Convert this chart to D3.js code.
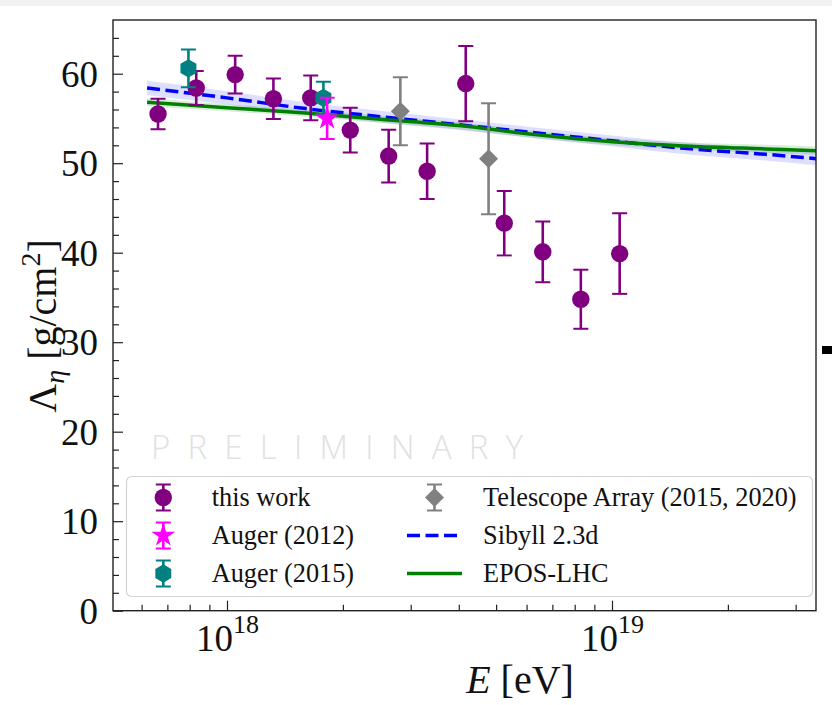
<!DOCTYPE html>
<html>
<head>
<meta charset="utf-8">
<script src="https://cdn.jsdelivr.net/npm/d3@7"></script>
<style>
  body { margin: 0; background: #fff; }
  svg { display: block; }
  text { font-family: "Liberation Serif", "DejaVu Serif", serif; }
</style>
</head>
<body>
<div id="chart"></div>
<script>
// measured points, this work
var workE = [6.62e17, 8.32e17, 1.05e18, 1.32e18, 1.65e18, 2.09e18, 2.63e18, 3.31e18, 4.17e18, 5.25e18, 6.61e18, 8.30e18, 1.047e19];
var workL = [55.5, 58.4, 59.9, 57.2, 57.3, 53.7, 50.8, 49.1, 58.9, 43.3, 40.1, 34.8, 39.9];
var workErr = [1.7, 1.9, 2.1, 2.25, 2.5, 2.5, 2.95, 3.1, 4.2, 3.6, 3.4, 3.3, 4.5];

var auger12E = [1.82e18];
var auger12L = [55.0];
var auger12Err = [2.3];

var auger15E = [7.94e17, 1.78e18];
var auger15L = [60.6, 57.3];
var auger15Err = [2.1, 1.8];

var taE = [2.82e18, 4.78e18];
var taL = [55.8, 50.5];
var taErr = [3.8, 6.2];

// model curves
var modelE = [6.2e17, 1e18, 1.6e18, 2.5e18, 4e18, 6.3e18, 1e19, 1.6e19, 2.5e19, 3.4e19];
var sibyllL = [58.4, 57.3, 56.1, 55.2, 54.3, 53.4, 52.5, 51.6, 51.0, 50.5];
var sibyllBand = [0.8, 0.75, 0.7, 0.65, 0.6, 0.6, 0.6, 0.65, 0.7, 0.75];
var eposL = [56.8, 56.2, 55.6, 54.9, 54.2, 53.2, 52.4, 51.9, 51.6, 51.4];
var eposBand = [0.45, 0.4, 0.4, 0.4, 0.4, 0.4, 0.4, 0.4, 0.45, 0.45];

var yMajor = [0, 10, 20, 30, 40, 50, 60];
var yMinor = [2, 4, 6, 8, 12, 14, 16, 18, 22, 24, 26, 28, 32, 34, 36, 38, 42, 44, 46, 48, 52, 54, 56, 58, 62, 64];
var xMajor = [1e18, 1e19];
var xMinor = [6e17, 7e17, 8e17, 9e17, 2e18, 3e18, 4e18, 5e18, 6e18, 7e18, 8e18, 9e18, 2e19, 3e19];

var chartW = 832, chartH = 705;
var pLeft = 113, pRight = 816, pTop = 20, pBottom = 610.7;

var svg = d3.select("#chart").append("svg").attr("width", chartW).attr("height", chartH);

// grey strip at the very top of the screenshot
svg.append("rect").attr("x", 0).attr("y", 0).attr("width", chartW).attr("height", 6).attr("fill", "#f1f1f1");

var x = d3.scaleLog().domain([Math.pow(10, 17.7039), Math.pow(10, 19.5299)]).range([pLeft, pRight]);
var y = d3.scaleLinear().domain([0, 66]).range([pBottom, pTop]);

svg.append("defs").append("clipPath").attr("id", "clip")
  .append("rect").attr("x", pLeft).attr("y", pTop).attr("width", pRight - pLeft).attr("height", pBottom - pTop);

// watermark
svg.append("text")
  .attr("x", 151).attr("y", 459)
  .attr("textLength", 372).attr("lengthAdjust", "spacing")
  .style("font-family", "'Open Sans', 'DejaVu Sans', sans-serif")
  .style("font-weight", 300)
  .style("font-size", "33px")
  .attr("fill", "#e1e1e1")
  .text("PRELIMINARY");

var plot = svg.append("g").attr("clip-path", "url(#clip)");

// model bands + lines
function band(vals, errs) {
  return d3.area()
    .x(function(d, i) { return x(modelE[i]); })
    .y0(function(d, i) { return y(vals[i] - errs[i]); })
    .y1(function(d, i) { return y(vals[i] + errs[i]); })
    .curve(d3.curveMonotoneX)(modelE);
}
function curve(vals) {
  return d3.line()
    .x(function(d, i) { return x(modelE[i]); })
    .y(function(d, i) { return y(vals[i]); })
    .curve(d3.curveMonotoneX)(modelE);
}

plot.append("path").attr("d", band(sibyllL, sibyllBand)).attr("fill", "#0000ff").attr("fill-opacity", 0.13);
plot.append("path").attr("d", band(eposL, eposBand)).attr("fill", "#008000").attr("fill-opacity", 0.15);
plot.append("path").attr("d", curve(sibyllL)).attr("fill", "none").attr("stroke", "#0000ff")
  .attr("stroke-width", 3.5).attr("stroke-dasharray", "13,5.5");
plot.append("path").attr("d", curve(eposL)).attr("fill", "none").attr("stroke", "#008000")
  .attr("stroke-width", 3.5);

// marker shapes
function hexagon(r) {
  var p = [];
  for (var k = 0; k < 6; k++) {
    var a = Math.PI / 2 + k * Math.PI / 3;
    p.push([r * Math.cos(a), -r * Math.sin(a)]);
  }
  return "M" + p.join("L") + "Z";
}
function star(R) {
  var p = [], r = R * 0.382;
  for (var k = 0; k < 10; k++) {
    var a = Math.PI / 2 + k * Math.PI / 5;
    var rr = k % 2 ? r : R;
    p.push([rr * Math.cos(a), -rr * Math.sin(a)]);
  }
  return "M" + p.join("L") + "Z";
}
function diamond(r) {
  return "M0," + (-r) + "L" + r + ",0L0," + r + "L" + (-r) + ",0Z";
}
function circle(r) {
  return "M" + r + ",0A" + r + "," + r + " 0 1,1 " + (-r) + ",0A" + r + "," + r + " 0 1,1 " + r + ",0Z";
}

function drawSeries(E, L, err, color, shape) {
  var g = plot.append("g");
  E.forEach(function(e, i) {
    var cx = x(e), cy = y(L[i]);
    var y1 = y(L[i] + err[i]), y2 = y(L[i] - err[i]);
    g.append("line").attr("x1", cx).attr("x2", cx).attr("y1", y1).attr("y2", y2)
      .attr("stroke", color).attr("stroke-width", 2.6);
    [y1, y2].forEach(function(yy) {
      g.append("line").attr("x1", cx - 7.5).attr("x2", cx + 7.5).attr("y1", yy).attr("y2", yy)
        .attr("stroke", color).attr("stroke-width", 2);
    });
    g.append("path").attr("d", shape).attr("transform", "translate(" + cx + "," + cy + ")").attr("fill", color);
  });
}

drawSeries(workE, workL, workErr, "#800080", circle(8.7));
drawSeries(auger15E, auger15L, auger15Err, "#008080", hexagon(9.2));
drawSeries(auger12E, auger12L, auger12Err, "#ff00ff", star(12.5));
drawSeries(taE, taL, taErr, "#808080", diamond(9.5));

// axes
var xAxis = svg.append("g").attr("transform", "translate(0," + pBottom + ")")
  .call(d3.axisBottom(x).tickValues(xMajor).tickSizeInner(-10).tickSizeOuter(0).tickFormat(""));
var xAxisMinor = svg.append("g").attr("transform", "translate(0," + pBottom + ")")
  .call(d3.axisBottom(x).tickValues(xMinor).tickSizeInner(-6).tickSizeOuter(0).tickFormat(""));
var yAxis = svg.append("g").attr("transform", "translate(" + pLeft + ",0)")
  .call(d3.axisLeft(y).tickValues(yMajor).tickSizeInner(-10).tickSizeOuter(0).tickPadding(15));
var yAxisMinor = svg.append("g").attr("transform", "translate(" + pLeft + ",0)")
  .call(d3.axisLeft(y).tickValues(yMinor).tickSizeInner(-6).tickSizeOuter(0).tickFormat(""));

[xAxis, xAxisMinor, yAxis, yAxisMinor].forEach(function(a) {
  a.select(".domain").remove();
  a.selectAll(".tick line").attr("stroke", "#222").attr("stroke-width", 1.2);
});
yAxis.selectAll(".tick text")
  .style("font-family", "'Liberation Serif', serif")
  .style("font-size", "37px").attr("fill", "#111").attr("dy", "0.34em");

// x tick labels with superscript exponent
xAxis.selectAll(".tick").each(function(d) {
  var t = d3.select(this).append("text")
    .attr("y", 40).attr("x", 0).attr("text-anchor", "middle").attr("fill", "#111")
    .style("font-size", "37px");
  t.append("tspan").text("10");
  t.append("tspan").attr("dy", -18).style("font-size", "26px").text(Math.round(Math.log10(d)));
});

// frame
svg.append("rect").attr("x", pLeft).attr("y", pTop).attr("width", pRight - pLeft).attr("height", pBottom - pTop)
  .attr("fill", "none").attr("stroke", "#222").attr("stroke-width", 1.4);

// axis titles
var xl = svg.append("text").attr("x", 520).attr("y", 693).attr("text-anchor", "middle")
  .attr("fill", "#111").style("font-size", "40px");
xl.append("tspan").style("font-style", "italic").text("E");
xl.append("tspan").text(" [eV]");

var yl = svg.append("text").attr("transform", "translate(56,326) rotate(-90)")
  .attr("text-anchor", "middle").attr("fill", "#111").style("font-size", "40px");
yl.append("tspan").text("Λ");
yl.append("tspan").attr("dy", 8).style("font-size", "28px").style("font-style", "italic").text("η");
yl.append("tspan").attr("dy", -8).text(" [g/cm");
yl.append("tspan").attr("dy", -16).style("font-size", "28px").text("2");
yl.append("tspan").attr("dy", 16).text("]");

// legend
var legend = svg.append("g");
legend.append("rect").attr("x", 126.5).attr("y", 476.5).attr("width", 686).attr("height", 120).attr("rx", 5)
  .attr("fill", "#fff").attr("fill-opacity", 0.8).attr("stroke", "#d4d4d4").attr("stroke-width", 1.2);

var legendMarkers = [
  { label: "this work", color: "#800080", shape: circle(8.7), col: 0, row: 0 },
  { label: "Auger (2012)", color: "#ff00ff", shape: star(12.5), col: 0, row: 1 },
  { label: "Auger (2015)", color: "#008080", shape: hexagon(9.2), col: 0, row: 2 },
  { label: "Telescope Array (2015, 2020)", color: "#808080", shape: diamond(9.5), col: 1, row: 0 }
];
var legendLines = [
  { label: "Sibyll 2.3d", color: "#0000ff", dash: "13,5.5", row: 1 },
  { label: "EPOS-LHC", color: "#008000", dash: null, row: 2 }
];
var rowY = [497.5, 535.5, 573.5];
var colX = [163.3, 434.5];
var textX = [211.7, 483];

legendMarkers.forEach(function(m) {
  var cx = colX[m.col], cy = rowY[m.row];
  legend.append("line").attr("x1", cx).attr("x2", cx).attr("y1", cy - 13).attr("y2", cy + 13)
    .attr("stroke", m.color).attr("stroke-width", 2.6);
  [cy - 13, cy + 13].forEach(function(yy) {
    legend.append("line").attr("x1", cx - 7.5).attr("x2", cx + 7.5).attr("y1", yy).attr("y2", yy)
      .attr("stroke", m.color).attr("stroke-width", 2);
  });
  legend.append("path").attr("d", m.shape).attr("transform", "translate(" + cx + "," + cy + ")").attr("fill", m.color);
  legend.append("text").attr("x", textX[m.col]).attr("y", cy).attr("dy", "0.33em")
    .attr("fill", "#111").style("font-size", "26.3px").text(m.label);
});
legendLines.forEach(function(l) {
  var cy = rowY[l.row];
  legend.append("line").attr("x1", 407).attr("x2", 462).attr("y1", cy).attr("y2", cy)
    .attr("stroke", l.color).attr("stroke-width", 3.5).attr("stroke-dasharray", l.dash);
  legend.append("text").attr("x", textX[1]).attr("y", cy).attr("dy", "0.33em")
    .attr("fill", "#111").style("font-size", "26.3px").text(l.label);
});

// small black mark at right edge of the screenshot
svg.append("rect").attr("x", 822).attr("y", 346).attr("width", 10).attr("height", 8).attr("fill", "#000");
</script>
</body>
</html>
